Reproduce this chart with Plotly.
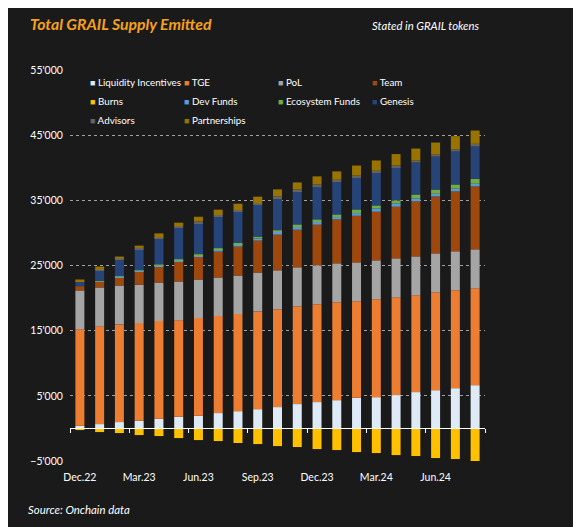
import plotly.graph_objects as go

months = ["Dec.22", "Jan.23", "Feb.23", "Mar.23", "Apr.23", "May.23", "Jun.23",
          "Jul.23", "Aug.23", "Sep.23", "Oct.23", "Nov.23", "Dec.23", "Jan.24",
          "Feb.24", "Mar.24", "Apr.24", "May.24", "Jun.24", "Jul.24", "Aug.24"]

liquidity = [410, 660, 970, 1170, 1480, 1790, 1940, 2350, 2650, 2960, 3270,
             3730, 4040, 4340, 4700, 4800, 5110, 5570, 5870, 6180, 6640]
tge = [14790, 15000, 14990, 14990, 14990, 14790, 14990, 14890, 14890, 14990, 15020,
       15020, 15020, 15020, 14810, 15020, 15010, 14860, 15020, 15020, 14860]
pol = [5970, 5970, 5970, 5870, 5920, 5970, 5920, 5920, 5920, 5970, 5970,
       5970, 5970, 5970, 5970, 5970, 5980, 5970, 5970, 5980, 5980]
team = [660, 870, 1230, 2090, 2450, 3060, 3520, 3980, 4440, 4900, 5470,
        5770, 6230, 6740, 7150, 7460, 7920, 8430, 8730, 9190, 9650]
burns = [-255, -560, -710, -1020, -1170, -1480, -1790, -1940, -2240, -2400, -2710,
         -2860, -3170, -3320, -3630, -3780, -4090, -4240, -4550, -4700, -5000]
dev_funds = [0, 50, 150, 100, 200, 200, 200, 310, 360, 310, 410,
             410, 410, 360, 410, 510, 460, 460, 410, 410, 410]
ecosystem = [0, 50, 50, 50, 100, 150, 150, 200, 250, 310, 260,
             410, 410, 410, 560, 460, 510, 610, 660, 660, 770]
genesis = [665, 1580, 2550, 3220, 3930, 4850, 4800, 4850, 4750, 4850, 4950,
           5110, 5110, 5060, 4950, 5060, 5110, 4900, 5060, 5060, 4950]
advisors = [100, 150, 150, 200, 200, 200, 250, 250, 250, 250, 260,
            260, 260, 260, 260, 260, 260, 310, 310, 310, 410]
partnerships = [255, 510, 310, 360, 660, 560, 710, 820, 970, 1020, 1070,
                1070, 1230, 1280, 1530, 1580, 1740, 1840, 1840, 2040, 2040]

names = ["Liquidity Incentives", "TGE", "PoL", "Team", "Burns", "Dev Funds",
         "Ecosystem Funds", "Genesis", "Advisors", "Partnerships"]
series = [liquidity, tge, pol, team, burns, dev_funds, ecosystem, genesis,
          advisors, partnerships]
colors = ["#DEEBF7", "#ED7D31", "#A5A5A5", "#9E480E", "#FFC000", "#5B9BD5",
          "#70AD47", "#264478", "#636363", "#997300"]

font = "Lato"
bg = "#1a1a1a"

fig = go.Figure()
for name, vals, col in zip(names, series, colors):
    # burns go on the overlay axis that sits on the zero line
    fig.add_trace(go.Bar(x=months, y=vals, name=name, marker_color=col,
                         marker_line_width=0, showlegend=False,
                         xaxis="x2" if name == "Burns" else "x"))

# legend entries: coloured square glyph right next to the text, like excel
for name, col in zip(names, colors):
    fig.add_trace(go.Scatter(
        x=[None], y=[None], mode="markers",
        name='<span style="color:%s;font-size:9px">&#9632;</span> %s' % (col, name),
        marker=dict(size=1, color="rgba(0,0,0,0)")))

rng = [-0.5, len(months) - 0.5]
zero_pos = 5000 / 60000

fig.update_layout(
    width=581, height=527,
    paper_bgcolor=bg, plot_bgcolor=bg,
    margin=dict(l=62, r=104, t=62, b=74, autoexpand=False),
    barmode="relative", bargap=0.545,
    separators=".'",
    font=dict(family=font, size=10.5, color="white"),
    title=dict(text="Total GRAIL Supply Emitted", xref="container", x=0.038,
               xanchor="left", y=0.969, yanchor="middle",
               font=dict(family=font, size=15.8, color="#F5A11C",
                         weight="bold", style="italic")),
    legend=dict(orientation="h", xref="container", yref="container",
                x=0.0723, xanchor="left", y=0.886, yanchor="top",
                entrywidth=49, bgcolor="rgba(0,0,0,0)",
                font=dict(family=font, size=9.8, color="white")),
    xaxis=dict(type="category", categoryarray=months, range=rng,
               tickvals=months[::3], ticks="outside", ticklen=6,
               tickcolor="rgba(0,0,0,0)", showgrid=False, showline=False,
               tickfont=dict(size=10.5, color="white")),
    xaxis2=dict(type="category", categoryarray=months, range=rng,
                overlaying="x", anchor="free", position=zero_pos,
                showline=True, linecolor="white", linewidth=1,
                tickvals=[i - 0.5 for i in range(0, len(months) + 1, 3)],
                ticks="outside", ticklen=4, tickcolor="white",
                showticklabels=False, showgrid=False),
    yaxis=dict(range=[-5000, 55000], tick0=5000, dtick=10000, tickformat=",",
               showgrid=True, gridcolor="#a0a0a0", griddash="dot", gridwidth=1,
               zeroline=False, ticks="outside", ticklen=4,
               tickcolor="rgba(0,0,0,0)", tickfont=dict(size=10.5, color="white")),
    annotations=[
        dict(text="Stated in GRAIL tokens", xref="paper", yref="paper",
             x=0.993, y=1.115, xanchor="right", yanchor="middle", showarrow=False,
             font=dict(family=font, size=11.3, color="white", style="italic")),
        dict(text="Source: Onchain data", xref="paper", yref="paper",
             x=-0.106, y=-0.125, xanchor="left", yanchor="middle", showarrow=False,
             font=dict(family=font, size=11.4, color="white", style="italic")),
    ],
)

fig.write_html("out.html")
